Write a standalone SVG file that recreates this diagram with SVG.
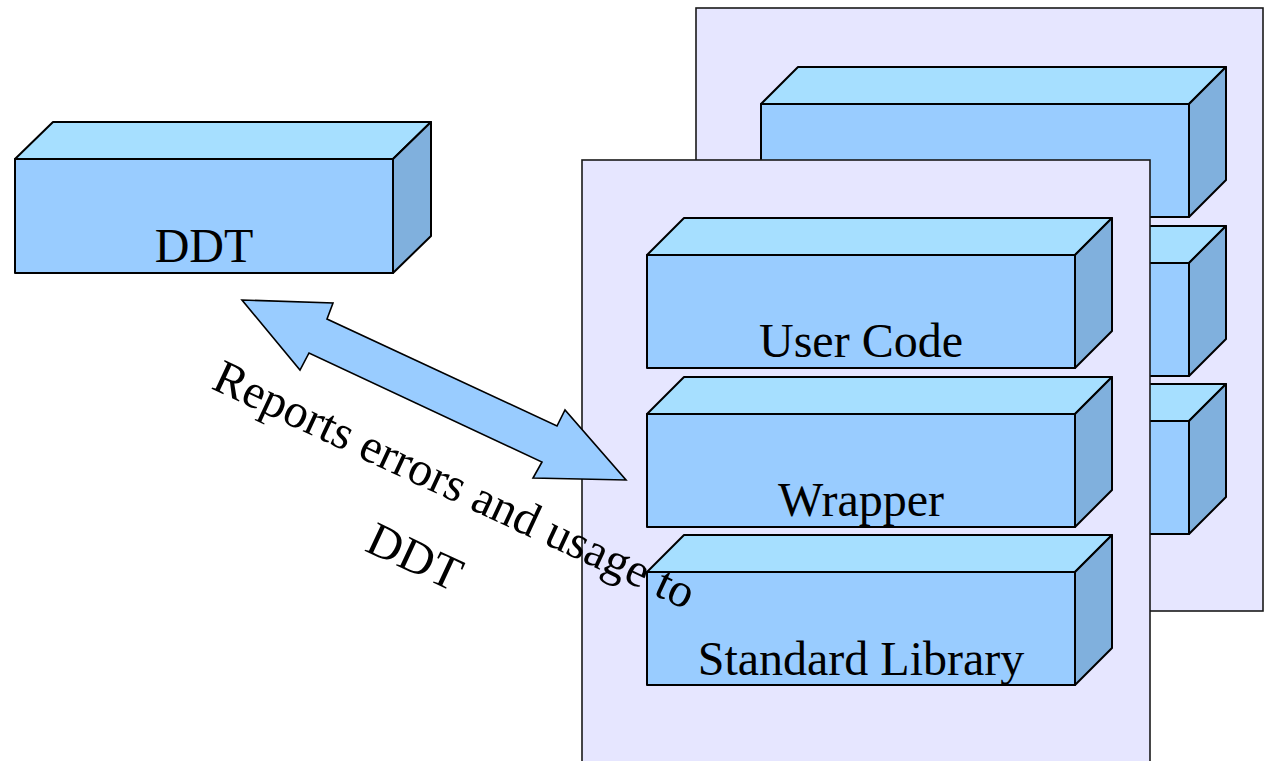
<svg xmlns="http://www.w3.org/2000/svg" width="1270" height="761" viewBox="0 0 1270 761">
  <style>
    .panel { fill: #E6E6FF; stroke: #1a1a1a; stroke-width: 1.6; }
    .front { fill: #99CCFF; stroke: #000; stroke-width: 2; stroke-linejoin: round; }
    .top { fill: #A6DFFF; stroke: #000; stroke-width: 2; stroke-linejoin: round; }
    .side { fill: #80B0DD; stroke: #000; stroke-width: 2; stroke-linejoin: round; }
    .label { font-family: "Times New Roman", "Liberation Serif", Tinos, "DejaVu Serif", serif; font-size: 48px; fill: #000; }
    .arrow { fill: #99CCFF; stroke: #000; stroke-width: 1.6; stroke-linejoin: miter; }
  </style>
  <defs>
    <!-- 3D block: front face 428x113 with 37px depth, origin at front top-left -->
    <g id="block">
      <rect class="front" x="0" y="0" width="428" height="113"/>
      <polygon class="top" points="0,0 37,-37 465,-37 428,0"/>
      <polygon class="side" points="428,0 465,-37 465,76 428,113"/>
    </g>
  </defs>

  <rect width="1270" height="761" fill="#FFFFFF"/>

  <!-- rear process stack -->
  <g id="rear-process">
    <rect class="panel" x="696" y="8" width="567" height="603"/>
    <use href="#block" x="761" y="104"/>
    <use href="#block" x="761" y="263"/>
    <use href="#block" x="761" y="421"/>
  </g>

  <!-- front process stack -->
  <g id="front-process">
    <rect class="panel" x="582" y="160" width="568" height="610"/>
  </g>
  <g id="user-code">
    <use href="#block" x="647" y="255"/>
    <text class="label" x="861" y="357" text-anchor="middle">User Code</text>
  </g>
  <g id="wrapper">
    <use href="#block" x="647" y="414"/>
    <text class="label" x="861" y="516" text-anchor="middle">Wrapper</text>
  </g>
  <g id="standard-library">
    <use href="#block" x="647" y="572"/>
    <text class="label" x="861" y="675" text-anchor="middle">Standard Library</text>
  </g>

  <!-- debugger -->
  <g id="ddt">
    <rect class="front" x="15" y="159" width="378" height="114"/>
    <polygon class="top" points="15,159 53,122 431,122 393,159"/>
    <polygon class="side" points="393,159 431,122 431,236 393,273"/>
    <text class="label" x="204" y="262" text-anchor="middle">DDT</text>
  </g>

  <!-- two-way link between the debugger and the process -->
  <g id="connectors">
    <polygon class="arrow" points="242,300 333,303 327,319 557,426 565,410 626,480 533,478 542,462 309,353 300,370"/>
    <text class="label" transform="translate(210,388) rotate(25)">Reports errors and usage to</text>
    <text class="label" text-anchor="middle" transform="translate(408,571) rotate(25)">DDT</text>
  </g>
</svg>
